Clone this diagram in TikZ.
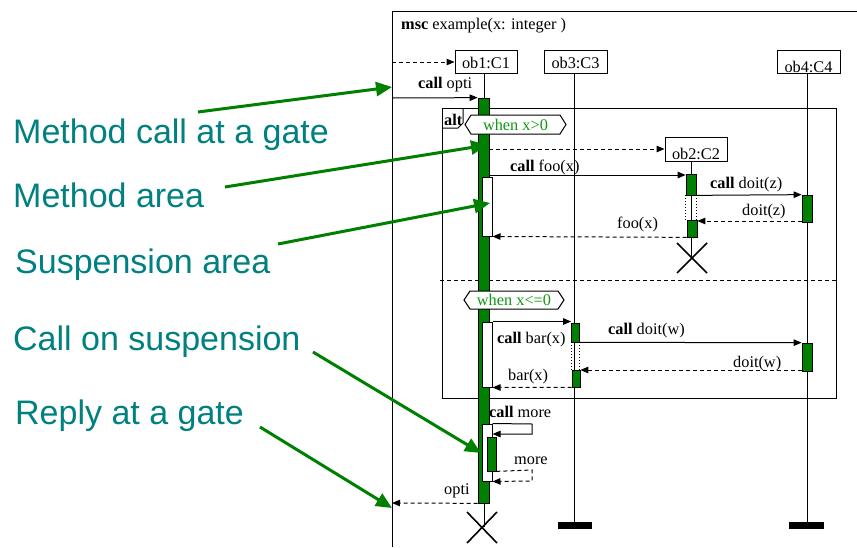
\documentclass[tikz,border=0pt]{standalone}
\usepackage{fontspec}
\setmainfont{Liberation Serif}
\newfontfamily\annfont{Liberation Sans}
\usetikzlibrary{arrows.meta}
\definecolor{mgreen}{RGB}{0,128,0}
\definecolor{annteal}{RGB}{0,128,128}
\definecolor{guardgreen}{RGB}{20,150,20}
\begin{document}
\begin{tikzpicture}[x=1pt,y=-1pt,
  ln/.style={line width=1pt,black},
  msg/.style={ln,-{Triangle[length=8pt,width=6.5pt]}},
  rep/.style={msg,dash pattern=on 4pt off 3pt},
  actg/.style={draw=black,line width=0.7pt,fill=mgreen,inner sep=0pt,minimum width=#1},
  actg/.default=11,
  susp/.style={draw=black,line width=1pt,fill=white,inner sep=0pt,minimum width=10},
  dsusp/.style={draw=none,inner sep=0pt,minimum width=10},
  objb/.style={draw=black,line width=1pt,fill=white,inner sep=0pt,minimum height=23},
  txt/.style={font=\fontsize{16.3}{18}\selectfont,inner sep=0pt},
  gtxt/.style={txt,text=guardgreen},
  note/.style={font=\annfont\fontsize{34}{40}\selectfont,text=annteal,inner sep=0pt,anchor=base west},
  ann/.style={mgreen,line width=3pt,-{Triangle[length=16pt,width=14pt]}},
  guard/.style={ln,fill=white},
  xmark/.style={line width=1.6pt,black}
]
\useasboundingbox (0,0) rectangle (857,547);

% outer msc frame
\coordinate (frTR) at (857,11);
\coordinate (frTL) at (392,11);
\coordinate (frBL) at (392,547);
\draw[ln] (frTR) -- (frTL) -- (frBL);
\node[txt,anchor=base west] (title) at (401,29) {\textbf{msc} example(x: integer )};

% alt frame
\coordinate (altTL) at (442,108);
\coordinate (altBR) at (836,398);
\draw[ln] (altTL) rectangle (altBR);
\draw[ln] (442,128) -- (458,128) -- (463,123) -- (463,108);
\node[txt,anchor=base west] (alt) at (444,125) {\textbf{alt}};
\coordinate (sepL) at (440,280);
\coordinate (sepR) at (836,280);
\draw[ln,dash pattern=on 4pt off 3pt] (sepL) -- (sepR);

% object boxes
\node[objb,minimum width=62] (ob1) at (486,61.5) {};
\node[txt,anchor=base] (ob1t) at (486,68) {ob1:C1};
\node[objb,minimum width=63] (ob3) at (575.5,61.5) {};
\node[txt,anchor=base] (ob3t) at (575.5,68) {ob3:C3};
\node[objb,minimum width=63] (ob4) at (808.5,61.5) {};
\node[txt,anchor=base] (ob4t) at (808.5,72) {ob4:C4};
\node[objb,minimum width=62,minimum height=24] (ob2) at (696,149) {};
\node[txt,anchor=base] (ob2t) at (696,159.5) {ob2:C2};

% lifelines
\coordinate (l1e) at (484,527);
\coordinate (l3e) at (574,522);
\coordinate (l4e) at (807,522);
\coordinate (l2e) at (691,258);
\draw[ln] (484,73) -- (l1e);
\draw[ln] (574,73) -- (l3e);
\draw[ln] (807,73) -- (l4e);
\draw[ln] (691,161) -- (l2e);

% lifeline ends
\node[fill=black,inner sep=0pt,minimum width=34,minimum height=7] (end3) at (575,525.5) {};
\node[fill=black,inner sep=0pt,minimum width=35,minimum height=7] (end4) at (806.5,525.5) {};
\draw[xmark] (467,512) -- (497,543) (467,543) -- (497,512);
\draw[xmark] (677,243) -- (707,273) (677,273) -- (707,243);

% main activation of ob1
\node[actg,minimum height=405] (a1) at (483.5,300.5) {};

% gate messages
\coordinate (g1) at (392,62);
\draw[rep] (g1) -- (ob1.west |- g1);
\coordinate (g2) at (392,98);
\draw[msg] (g2) -- (a1.north west);
\node[txt,anchor=base west] (mopti) at (418,88) {\textbf{call} opti};

% guard 1
\draw[guard] (465,124.5) -- (471,115) -- (560,115) -- (566,124.5) -- (560,134) -- (471,134) -- cycle;
\node[gtxt,anchor=base] (g1t) at (515.5,130) {when x>0};

% create ob2
\coordinate (cr) at (489,149);
\draw[rep] (cr) -- (ob2.west |- cr);

% suspension 1 on ob1
\node[susp,minimum height=59] (s1) at (487,206.5) {};
% ob2 activations
\node[actg=10,minimum height=21] (b1) at (691,184.5) {};
\node[dsusp,minimum height=25] (bs) at (691,207.5) {};
\draw[ln,dotted] (bs.north west) -- (bs.south west) (bs.north east) -- (bs.south east);
\node[actg=10,minimum height=17] (b2) at (692,228.5) {};
% ob4 activation 1
\node[actg=10,minimum height=27] (d1) at (807,208.5) {};

\coordinate (foo1) at (489,175);
\draw[msg] (foo1) -- (b1.west |- foo1);
\node[txt,anchor=base west] (mfoo) at (510,171) {\textbf{call} foo(x)};
\draw[msg] (b1.south east) -- (d1.north west);
\node[txt,anchor=base west] (mdoitz) at (710,188) {\textbf{call} doit(z)};
\coordinate (rz) at (802,221);
\draw[rep] (rz) -- (b2.east |- rz);
\node[txt,anchor=base west] (rdoitz) at (742,215) {doit(z)};
\draw[rep] (b2.south west) -- (s1.south east);
\node[txt,anchor=base west] (rfoo) at (617,228) {foo(x)};

% guard 2
\draw[guard] (464,300) -- (470,291) -- (558,291) -- (564,300) -- (558,309) -- (470,309) -- cycle;
\node[gtxt,anchor=base] (g2t) at (514,305.5) {when x<=0};

% suspension 2 on ob1
\node[susp,minimum height=65] (s2) at (487,354.5) {};
% ob3 activations
\node[actg=8,minimum height=19] (c1) at (575.5,332.5) {};
\node[dsusp,minimum width=8,minimum height=28] (cs) at (575.5,356.5) {};
\draw[ln,dotted] (cs.north west) -- (cs.south west) (cs.north east) -- (cs.south east);
\node[actg=8,minimum height=17] (c2) at (576,378.5) {};
% ob4 activation 2
\node[actg=10,minimum height=28] (d2) at (807,357) {};

\draw[msg] (s2.north east) -- (c1.west |- s2.north east);
\node[txt,anchor=base west] (mbar) at (497,343) {\textbf{call} bar(x)};
\draw[msg] (c1.south east) -- (d2.north west);
\node[txt,anchor=base west] (mdoitw) at (608,334) {\textbf{call} doit(w)};
\coordinate (rw) at (802,370);
\draw[rep] (rw) -- (c2.east |- rw);
\node[txt,anchor=base west] (rdoitw) at (733,367) {doit(w)};
\draw[rep] (c2.south west) -- (s2.south east);
\node[txt,anchor=base west] (rbar) at (508,380) {bar(x)};

% self call "more"
\node[susp,minimum height=57] (s3) at (487,452.5) {};
\node[actg=9,minimum height=34] (a2) at (491.5,454) {};
\coordinate (mo1) at (532,424);
\coordinate (mo2) at (532,434);
\draw[msg] (s3.north east) -- (mo1) -- (mo2) -- (s3.east |- mo2);
\node[txt,anchor=base west] (mmore) at (489,417) {\textbf{call} more};
\coordinate (mr1) at (532,470);
\coordinate (mr2) at (532,481);
\draw[rep] (a2.south east) -- (mr1) -- (mr2) -- (s3.south east);
\node[txt,anchor=base west] (rmore) at (514,464) {more};

% reply at gate
\coordinate (g3) at (392,503);
\draw[rep] (a1.south west) -- (g3);
\node[txt,anchor=base west] (ropti) at (444,494) {opti};

% annotations
\node[note] (n1) at (13,143) {Method call at a gate};
\node[note] (n2) at (13,207) {Method area};
\node[note] (n3) at (15,273) {Suspension area};
\node[note] (n4) at (13,350) {Call on suspension};
\node[note] (n5) at (15,424) {Reply at a gate};
\coordinate (t1) at (392,87);
\coordinate (t2) at (487,145);
\coordinate (t3) at (490,203);
\coordinate (t4) at (481,453);
\coordinate (t5) at (392,508);
\draw[ann] (198,112) -- (t1);
\draw[ann] (225,187) -- (t2);
\draw[ann] (278,244) -- (t3);
\draw[ann] (313,352) -- (t4);
\draw[ann] (260,427) -- (t5);
\end{tikzpicture}
\end{document}
